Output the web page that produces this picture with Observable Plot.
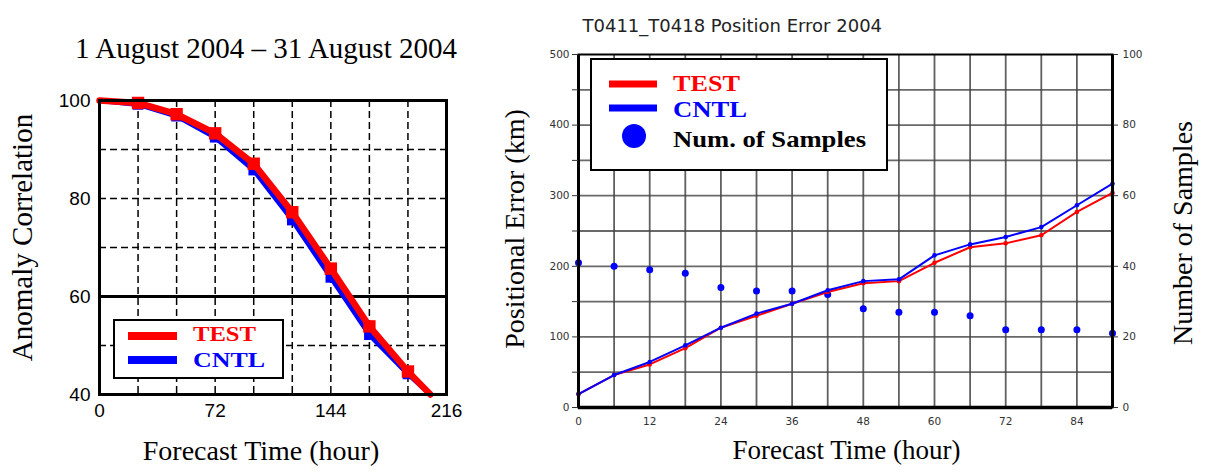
<!DOCTYPE html>
<html><head><meta charset="utf-8">
<script src="https://cdn.jsdelivr.net/npm/d3@7"></script>
<script src="https://cdn.jsdelivr.net/npm/@observablehq/plot@0.6"></script>
<style>
body{margin:0;background:#fff;}
#wrap{position:relative;width:1207px;height:473px;overflow:hidden;background:#fff;}
</style></head><body><div id="wrap"></div>
<script>
// ---------- Left panel: Anomaly Correlation ----------
const acTitle = "1 August 2004 \u2013 31 August 2004";
const acYLabel = "Anomaly Correlation";
const timeLabel = "Forecast Time (hour)";
const acHours = [0, 24, 48, 72, 96, 120, 144, 168, 192, 206];
const acTest  = [100, 99.5, 97.2, 93.3, 87.1, 77.2, 65.7, 53.9, 44.7, 40];
const acCntl  = [100, 99.2, 96.8, 92.5, 85.8, 75.6, 63.9, 52.2, 44.2, 40];
const acMarkerHours = [24, 48, 72, 96, 120, 144, 168, 192];
const acXTicks = [0, 72, 144, 216];
const acYTicks = [40, 60, 80, 100];
const acXGrid = [24, 48, 72, 96, 120, 144, 168, 192];
const acYGridDashed = [50, 70, 80, 90];
const acYGridSolid = [60];

// ---------- Right panel: Position Error ----------
const peTitle = "T0411_T0418 Position Error 2004";
const peYLabel = "Positional Error (km)";
const peY2Label = "Number of Samples";
const peHours = [0, 6, 12, 18, 24, 30, 36, 42, 48, 54, 60, 66, 72, 78, 84, 90];
const peTest  = [19, 46, 61, 84, 113, 130, 147, 163.5, 176, 179, 205, 227, 232.5, 244, 277, 304];
const peCntl  = [19, 46, 64.5, 88, 113, 133, 147, 166, 179, 181.5, 215.5, 231, 241.5, 255.5, 286.5, 317];
const peSamples = [41, 40, 39, 38, 34, 33, 33, 32, 28, 27, 27, 26, 22, 22, 22, 21];
const peXTicks = [0, 12, 24, 36, 48, 60, 72, 84];
const peYTicks = [0, 50, 100, 150, 200, 250, 300, 350, 400, 450, 500];
const peY2Ticks = [0, 20, 40, 60, 80, 100];
const peXGrid = [6, 12, 18, 24, 30, 36, 42, 48, 54, 60, 66, 72, 78, 84];
const peYGrid = [50, 100, 150, 200, 250, 300, 350, 400, 450];
const sampleScale = 5; // 100 samples <-> 500 km on the shared vertical axis

const legendAC = [{name: "TEST", color: "#ff0000"}, {name: "CNTL", color: "#0000ff"}];
const legendPE = [{name: "TEST", color: "#ff0000"}, {name: "CNTL", color: "#0000ff"}, {name: "Num. of Samples", color: "#0000ff"}];

const serif = "Liberation Serif, Times New Roman, serif";
const sans = "Liberation Sans, Arial, sans-serif";
const wrap = document.getElementById("wrap");

const acTestRows = acHours.map((h, i) => ({h, v: acTest[i]}));
const acCntlRows = acHours.map((h, i) => ({h, v: acCntl[i]}));
const isMarker = d => acMarkerHours.includes(d.h);

const left = Plot.plot({
  width: 490, height: 473,
  marginLeft: 99, marginRight: 44, marginTop: 100, marginBottom: 79,
  style: {fontFamily: sans, fontSize: "19px", color: "#000", background: "transparent"},
  x: {domain: [0, 216]},
  y: {domain: [40, 100]},
  marks: [
    Plot.gridX(acXGrid, {stroke: "#000", strokeOpacity: 1, strokeWidth: 1.5, strokeDasharray: "7,4"}),
    Plot.gridY(acYGridDashed, {stroke: "#000", strokeOpacity: 1, strokeWidth: 1.5, strokeDasharray: "7,4"}),
    Plot.ruleY(acYGridSolid, {stroke: "#000", strokeWidth: 3}),
    Plot.line(acCntlRows, {x: "h", y: "v", stroke: "#0000ff", strokeWidth: 5}),
    Plot.dot(acCntlRows.filter(isMarker), {x: "h", y: "v", symbol: "square", r: 6, fill: "#0000ff"}),
    Plot.line(acTestRows, {x: "h", y: "v", stroke: "#ff0000", strokeWidth: 6.5}),
    Plot.dot(acTestRows.filter(isMarker), {x: "h", y: "v", symbol: "square", r: 7, fill: "#ff0000"}),
    Plot.frame({stroke: "#000", strokeWidth: 3}),
    Plot.axisX({ticks: acXTicks, tickSize: 0, tickPadding: 9, label: null}),
    Plot.axisY({ticks: acYTicks, tickSize: 0, tickPadding: 9, label: null}),
    Plot.text([acTitle], {text: d => d, frameAnchor: "top", textAnchor: "middle", dx: -7, dy: -63, fontSize: 29, fontFamily: serif, fill: "#000"}),
    Plot.text([acYLabel], {text: d => d, frameAnchor: "left", textAnchor: "middle", rotate: -90, dx: -77, dy: -10, fontSize: 29, fontFamily: serif, fill: "#000"}),
    Plot.text([timeLabel], {text: d => d, frameAnchor: "bottom", textAnchor: "middle", dx: -12, dy: 65, fontSize: 28, fontFamily: serif, fill: "#000"})
  ]
});
left.style.position = "absolute"; left.style.left = "0px"; left.style.top = "0px";
wrap.appendChild(left);

const peTestRows = peHours.map((h, i) => ({h, v: peTest[i]}));
const peCntlRows = peHours.map((h, i) => ({h, v: peCntl[i]}));
const peSampleRows = peHours.map((h, i) => ({h, n: peSamples[i]}));

const right = Plot.plot({
  width: 717, height: 473,
  marginLeft: 88, marginRight: 95, marginTop: 54, marginBottom: 66,
  style: {fontFamily: "DejaVu Sans, sans-serif", fontSize: "10.5px", color: "#333", background: "transparent"},
  x: {domain: [0, 90]},
  y: {domain: [0, 500]},
  marks: [
    Plot.gridX(peXGrid, {stroke: "#444", strokeOpacity: 0.85, strokeWidth: 1.8}),
    Plot.gridY(peYGrid, {stroke: "#444", strokeOpacity: 0.8, strokeWidth: 1.8}),
    Plot.dot(peSampleRows, {x: "h", y: d => d.n * sampleScale, r: 3.5, fill: "#0000ff"}),
    Plot.line(peTestRows, {x: "h", y: "v", stroke: "#ff0000", strokeWidth: 2}),
    Plot.dot(peTestRows, {x: "h", y: "v", r: 2.3, fill: "#ff0000"}),
    Plot.line(peCntlRows, {x: "h", y: "v", stroke: "#0000ff", strokeWidth: 2}),
    Plot.dot(peCntlRows, {x: "h", y: "v", r: 2.3, fill: "#0000ff"}),
    Plot.frame({stroke: "#000", strokeWidth: 2}),
    Plot.ruleX([0, 90], {stroke: "#000", strokeWidth: 3}),
    Plot.ruleY([0], {stroke: "#000", strokeWidth: 3.5}),
    Plot.axisX({ticks: peXTicks, tickSize: 0, tickPadding: 10, label: null}),
    Plot.axisY({ticks: peYTicks, tickSize: 6, tickPadding: 3, tickFormat: d => d % 100 ? "" : d, label: null}),
    Plot.axisY({anchor: "right", ticks: peY2Ticks.map(v => v * sampleScale), tickSize: 5, tickPadding: 5, tickFormat: d => d / sampleScale, label: null}),
    Plot.text([peTitle], {text: d => d, frameAnchor: "top-left", textAnchor: "start", dx: 4, dy: -35, fontSize: 18, fontFamily: "DejaVu Sans, sans-serif", fill: "#222"}),
    Plot.text([peYLabel], {text: d => d, frameAnchor: "left", textAnchor: "middle", rotate: -90, dx: -63, dy: -2, fontSize: 28, fontFamily: serif, fill: "#000"}),
    Plot.text([peY2Label], {text: d => d, frameAnchor: "right", textAnchor: "middle", rotate: -90, dx: 71, dy: 2, fontSize: 28, fontFamily: serif, fill: "#000"}),
    Plot.text([timeLabel], {text: d => d, frameAnchor: "bottom", textAnchor: "middle", dx: 1, dy: 51, fontSize: 27, fontFamily: serif, fill: "#000"})
  ]
});
right.style.position = "absolute"; right.style.left = "490px"; right.style.top = "0px";
wrap.appendChild(right);

// ---------- Legends (overlay) ----------
const ov = d3.select(wrap).append("svg")
  .attr("width", 1207).attr("height", 473)
  .style("position", "absolute").style("left", "0px").style("top", "0px");

// left legend
const gL = ov.append("g");
gL.append("rect").attr("x", 114).attr("y", 320).attr("width", 169).attr("height", 58)
  .attr("fill", "#fff").attr("stroke", "#000").attr("stroke-width", 2);
legendAC.forEach((d, i) => {
  const y = 336 + i * 24;
  gL.append("line").attr("x1", 128).attr("x2", 177).attr("y1", y).attr("y2", y)
    .attr("stroke", d.color).attr("stroke-width", 8);
  gL.append("text").attr("x", 193).attr("y", [341, 367][i])
    .attr("font-family", serif).attr("font-weight", "bold").attr("font-size", 22)
    .attr("fill", d.color).attr("textLength", i === 0 ? 63 : 72).attr("lengthAdjust", "spacingAndGlyphs")
    .text(d.name);
});

// right legend
const gR = ov.append("g");
gR.append("rect").attr("x", 591).attr("y", 59).attr("width", 296).attr("height", 111)
  .attr("fill", "#fff").attr("stroke", "#000").attr("stroke-width", 2);
legendPE.forEach((d, i) => {
  const y = [84, 108, 136][i];
  if (i < 2) {
    gR.append("line").attr("x1", 609).attr("x2", 657).attr("y1", y).attr("y2", y)
      .attr("stroke", d.color).attr("stroke-width", 7);
  } else {
    gR.append("circle").attr("cx", 634).attr("cy", y).attr("r", 12).attr("fill", d.color);
  }
  gR.append("text").attr("x", 673).attr("y", [91, 117, 147][i])
    .attr("font-family", serif).attr("font-weight", "bold").attr("font-size", 23)
    .attr("fill", i < 2 ? d.color : "#000")
    .attr("textLength", [67, 74, 193][i]).attr("lengthAdjust", "spacingAndGlyphs")
    .text(d.name);
});
</script>
</body></html>
